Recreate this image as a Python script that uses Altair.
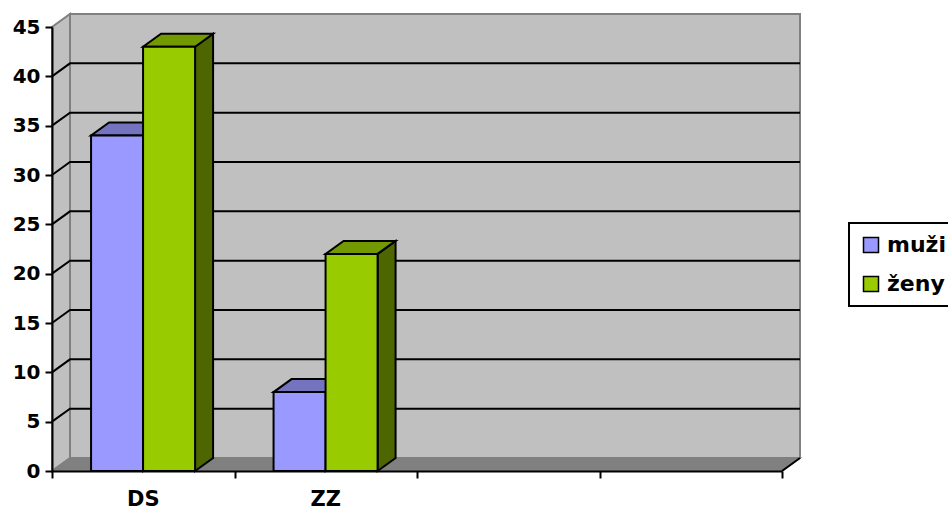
import altair as alt
import pandas as pd

# ---- data -------------------------------------------------------------
categories = ["DS", "ZZ"]
n_slots = 4                      # category slots on the x axis (two are empty)
series = ["muži", "ženy"]
muzi = [34, 8]
zeny = [43, 22]
y_ticks = [0, 5, 10, 15, 20, 25, 30, 35, 40, 45]

# ---- style ------------------------------------------------------------
FONT = "DejaVu Sans"
front_colors = ["#9999FF", "#99CC00"]
top_colors = ["#7373BF", "#739900"]
side_colors = ["#4D4D80", "#4D6600"]
WALL = "#C0C0C0"
FLOOR = "#808080"
EDGE = "#808080"

PLOT_W, PLOT_H = 730, 444
Y_MAX = y_ticks[-1]
DX = 18 / (PLOT_W / n_slots)     # 3-D depth, in slot units
DY = 13 / (PLOT_H / Y_MAX)       # 3-D depth, in value units
BAR_START, BAR_W = 0.214, 0.285

xs = alt.Scale(domain=[0, n_slots], nice=False, zero=False)
ys = alt.Scale(domain=[0, Y_MAX], nice=False, zero=False)

x_axis = alt.Axis(values=list(range(n_slots + 1)), labels=False, grid=False,
                  domainColor="black", domainWidth=2, tickColor="black",
                  tickWidth=2, tickSize=7, title=None, zindex=1)
y_axis = alt.Axis(values=y_ticks, grid=False, domainColor="black", domainWidth=2,
                  tickColor="black", tickWidth=2, tickSize=7, labelPadding=5,
                  labelFont=FONT, labelFontSize=20, labelFontWeight="bold",
                  labelColor="black", title=None, zindex=1)


def X(f):
    return alt.X(f, type="quantitative", scale=xs, axis=x_axis)


def Y(f):
    return alt.Y(f, type="quantitative", scale=ys, axis=y_axis)


# ---- box: back wall, left wall, floor, grid ---------------------------
back = pd.DataFrame([{"x": DX, "x2": n_slots + DX, "y": DY, "y2": Y_MAX + DY}])
back_wall = alt.Chart(back).mark_rect(fill=WALL, stroke=EDGE, strokeWidth=2).encode(
    x=X("x"), x2="x2", y=Y("y"), y2="y2")

left = pd.DataFrame([{"x": 0, "lo": 0, "hi": Y_MAX}, {"x": DX, "lo": DY, "hi": Y_MAX + DY}])
left_wall = alt.Chart(left).mark_area(fill=WALL, stroke=EDGE, strokeWidth=2).encode(
    x=X("x"), y=Y("lo"), y2="hi")

floor_pts = pd.DataFrame([
    {"x": 0, "lo": 0, "hi": 0},
    {"x": DX, "lo": 0, "hi": DY},
    {"x": n_slots, "lo": 0, "hi": DY},
    {"x": n_slots + DX, "lo": DY, "hi": DY},
])
floor = alt.Chart(floor_pts).mark_area(fill=FLOOR, stroke=EDGE, strokeWidth=1.5).encode(
    x=X("x"), y=Y("lo"), y2="hi")

grid_rows = []
for k in y_ticks[1:-1]:
    grid_rows += [
        {"k": k, "x": 0, "y": k},
        {"k": k, "x": DX, "y": k + DY},
        {"k": k, "x": n_slots + DX, "y": k + DY},
    ]
grid = alt.Chart(pd.DataFrame(grid_rows)).mark_line(color="black", strokeWidth=2).encode(
    x=X("x"), y=Y("y"), detail="k:N")

corner = pd.DataFrame([{"x": n_slots, "y": 0, "x2": n_slots + DX, "y2": DY}])
floor_edge = alt.Chart(corner).mark_rule(color="black", strokeWidth=2).encode(
    x=X("x"), y=Y("y"), x2="x2", y2="y2")

# ---- bars -------------------------------------------------------------
rows = []
for i, group in enumerate(categories):
    for j, (name, vals) in enumerate(zip(series, [muzi, zeny])):
        x0 = i + BAR_START + j * BAR_W
        rows.append({"group": group, "series": name, "s": j, "v": vals[i],
                     "x0": x0, "x1": x0 + BAR_W, "zero": 0})
bars = pd.DataFrame(rows)

side_layers, top_layers = [], []
for j, name in enumerate(series):
    side_rows, top_rows = [], []
    for b in [r for r in rows if r["s"] == j]:
        g, v, x0, x1 = b["group"], b["v"], b["x0"], b["x1"]
        side_rows += [
            {"id": g, "x": x1, "lo": 0, "hi": v},
            {"id": g, "x": x1 + DX, "lo": DY, "hi": v + DY},
        ]
        top_rows += [
            {"id": g, "x": x0, "lo": v, "hi": v},
            {"id": g, "x": x0 + DX, "lo": v, "hi": v + DY},
            {"id": g, "x": x1, "lo": v, "hi": v + DY},
            {"id": g, "x": x1 + DX, "lo": v + DY, "hi": v + DY},
        ]
    side_layers.append(
        alt.Chart(pd.DataFrame(side_rows)).mark_area(
            fill=side_colors[j], stroke="black", strokeWidth=2, strokeJoin="miter"
        ).encode(x=X("x"), y=Y("lo"), y2="hi", detail="id:N"))
    top_layers.append(
        alt.Chart(pd.DataFrame(top_rows)).mark_area(
            fill=top_colors[j], stroke="black", strokeWidth=2, strokeJoin="miter"
        ).encode(x=X("x"), y=Y("lo"), y2="hi", detail="id:N"))

front = alt.Chart(bars).mark_rect(stroke="black", strokeWidth=2).encode(
    x=X("x0"), x2="x1", y=Y("zero"), y2="v",
    color=alt.Color("series:N",
                    scale=alt.Scale(domain=series, range=front_colors),
                    legend=alt.Legend(title=None)),
)

labels = pd.DataFrame({"x": [i + 0.5 for i in range(len(categories))],
                       "y": [0] * len(categories), "t": categories})
cat_text = alt.Chart(labels).mark_text(
    font=FONT, fontSize=21, fontWeight="bold", color="black", dy=29, baseline="middle"
).encode(x=X("x"), y=Y("y"), text="t:N")

chart = alt.layer(
    back_wall, left_wall, floor, grid, floor_edge,
    *side_layers, *top_layers, front, cat_text
).properties(
    width=PLOT_W, height=PLOT_H,
    padding={"left": 52, "top": 27, "right": 948 - 52 - PLOT_W, "bottom": 513 - 27 - PLOT_H},
    autosize=alt.AutoSizeParams(type="none"),
    background="white",
).configure_view(stroke=None).configure_legend(
    orient="none", legendX=797, legendY=196,
    strokeColor="black", strokeWidth=2, fillColor="white", padding=11,
    symbolType="square", symbolSize=225, symbolStrokeColor="black",
    symbolStrokeWidth=1.5, symbolOpacity=1,
    labelFont=FONT, labelFontSize=22, labelFontWeight="bold", labelColor="black",
    labelOffset=5, rowPadding=17,
)

chart.save("out.html", embed_options={"renderer": "svg", "actions": False})
